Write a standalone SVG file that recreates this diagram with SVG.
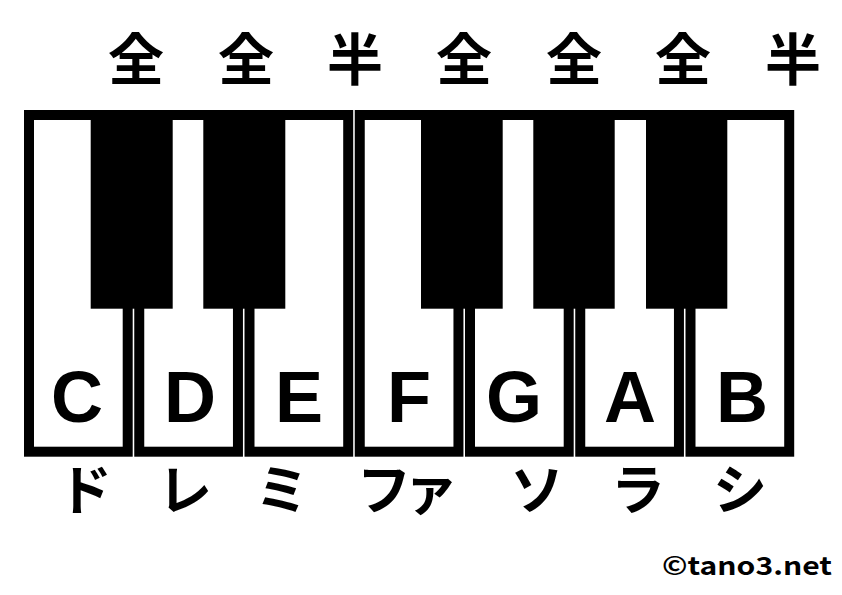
<svg xmlns="http://www.w3.org/2000/svg" width="842" height="595" viewBox="0 0 842 595">
<style>
.wk{fill:#fff;stroke:#000;stroke-width:10}
.bk{fill:#000}
.note{font-family:"Liberation Sans",Arial,sans-serif;font-weight:bold;font-size:72px;text-anchor:middle;fill:#000}
.step{font-family:"Noto Sans CJK JP",sans-serif;font-weight:bold;font-size:56px;text-anchor:middle;fill:#000}
.kana{font-family:"Noto Sans CJK JP",sans-serif;font-weight:bold;font-size:54px;text-anchor:middle;fill:#000}
.copy{font-family:"Noto Sans CJK JP","Liberation Sans",sans-serif;font-weight:bold;font-size:25px;fill:#000}
</style>
<rect width="842" height="595" fill="#fff"/>
<g id="steps">
<text class="step" x="136" y="80">全</text>
<text class="step" x="246" y="80">全</text>
<text class="step" x="355" y="80">半</text>
<text class="step" x="464" y="80">全</text>
<text class="step" x="574" y="80">全</text>
<text class="step" x="683" y="80">全</text>
<text class="step" x="793" y="80">半</text>
</g>
<g id="white-keys">
<g id="key-C"><rect class="wk" x="29" y="115" width="98.7" height="336.7"/><text class="note" x="77" y="422">C</text></g>
<g id="key-D"><rect class="wk" x="139.25" y="115" width="98.7" height="336.7"/><text class="note" x="190" y="422">D</text></g>
<g id="key-E"><rect class="wk" x="249.5" y="115" width="98.7" height="336.7"/><text class="note" x="299" y="422">E</text></g>
<g id="key-F"><rect class="wk" x="359.75" y="115" width="98.7" height="336.7"/><text class="note" x="409" y="422">F</text></g>
<g id="key-G"><rect class="wk" x="470" y="115" width="98.7" height="336.7"/><text class="note" x="514" y="422">G</text></g>
<g id="key-A"><rect class="wk" x="580.25" y="115" width="98.7" height="336.7"/><text class="note" x="630" y="422">A</text></g>
<g id="key-B"><rect class="wk" x="690.5" y="115" width="98.7" height="336.7"/><text class="note" x="742" y="422">B</text></g>
</g>
<g id="black-keys">
<rect id="key-Cs" class="bk" x="90.7" y="110" width="82" height="198.7"/>
<rect id="key-Ds" class="bk" x="203.3" y="110" width="82" height="198.7"/>
<rect id="key-Fs" class="bk" x="421" y="110" width="81.7" height="198.7"/>
<rect id="key-Gs" class="bk" x="533.3" y="110" width="81.4" height="198.7"/>
<rect id="key-As" class="bk" x="646" y="110" width="81.3" height="198.7"/>
</g>
<g id="solfege">
<text class="kana" x="85" y="510">ド</text>
<text class="kana" x="185" y="510">レ</text>
<text class="kana" x="282" y="510">ミ</text>
<text class="kana" x="357" y="510" style="text-anchor:start;letter-spacing:-7px">ファ</text>
<text class="kana" x="537" y="510">ソ</text>
<text class="kana" x="638" y="510">ラ</text>
<text class="kana" x="740" y="510">シ</text>
</g>
<text id="credit" class="copy" x="662" y="575" textLength="170" lengthAdjust="spacingAndGlyphs">©tano3.net</text>
</svg>
